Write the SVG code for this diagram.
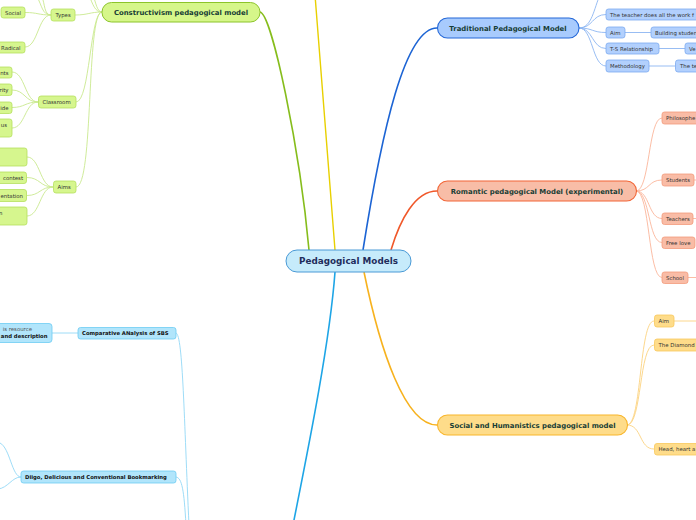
<svg xmlns="http://www.w3.org/2000/svg" width="696" height="520" viewBox="0 0 696 520">
<style>
text{font-family:"DejaVu Sans","Liberation Sans",sans-serif}
.main{font-size:6.9px;font-weight:bold;fill:#173d35;text-anchor:middle}
.t{font-size:5.4px;fill:#333}
.tb{font-size:5.3px;fill:#111;font-weight:bold}
.g1{fill:#d6f68e;stroke:#b5df5e;stroke-width:0.8}
.b1{fill:#b2d0fd;stroke:#7ba9f0;stroke-width:0.8}
.r1{fill:#f9bca6;stroke:#f39a7b;stroke-width:0.8}
.y1{fill:#fedc8a;stroke:#f9c85a;stroke-width:0.8}
.l1{fill:#b1e5fb;stroke:#6ccbf2;stroke-width:0.8}
</style>
<g id="connectors" fill="none">
  <path d="M260,12 C272,14 300,150 309,250" stroke="#86bd1c" stroke-width="1.6"/>
  <path d="M335,250 C328,160 320,60 315,-5" stroke="#e8d000" stroke-width="1.4"/>
  <path d="M363,250 C382,130 405,28 437,28" stroke="#1c64d4" stroke-width="1.6"/>
  <path d="M391,250 C400,220 415,191 437,191" stroke="#f0582a" stroke-width="1.6"/>
  <path d="M364,272 C380,350 405,425 437,425" stroke="#f7b21e" stroke-width="1.6"/>
  <path d="M335,272 C330,340 310,440 293,525" stroke="#1ea5e6" stroke-width="1.6"/>
  <g stroke="#c9e98f" stroke-width="0.9">
    <path d="M102,12 C90,12 88,15 75,15"/>
    <path d="M102,12 C90,12 90,102 76,102"/>
    <path d="M102,12 C86,12 94,187 76,187"/>
    <path d="M102,12 C95,12 93,5 89,-5"/>
    <path d="M102,12 C97,12 96,3 93,-5"/>
    <path d="M51,15 C38,15 38,12.5 25,12.5"/>
    <path d="M51,15 C38,15 38,47 25,47"/>
    <path d="M51,15 C42,15 42,5 37,-3"/>
    <path d="M51,15 C44,15 45,4 42,-3"/>
    <path d="M38,102 C25,102 25,72 12,72"/>
    <path d="M38,102 C25,102 25,90 12,90"/>
    <path d="M38,102 C25,102 25,107.5 12,107.5"/>
    <path d="M38,102 C25,102 25,128 12,128"/>
    <path d="M53,187 C40,187 40,157 27,157"/>
    <path d="M53,187 C40,187 40,177.5 27,177.5"/>
    <path d="M53,187 C40,187 40,195.5 27,195.5"/>
    <path d="M53,187 C40,187 40,216 27,216"/>
  </g>
  <g stroke="#8cb6f2" stroke-width="0.9">
    <path d="M579,28 C592,28 594,8 600,-5"/>
    <path d="M579,28 C593,28 592,14.5 606,14.5"/>
    <path d="M579,28 C593,28 592,32.5 606,32.5"/>
    <path d="M579,28 C593,28 592,48.5 606,48.5"/>
    <path d="M579,28 C593,28 592,66 606,66"/>
    <path d="M625,32.5 H651"/>
    <path d="M659,48.5 H685"/>
    <path d="M649,66 H675"/>
  </g>
  <g stroke="#fbb59b" stroke-width="0.9">
    <path d="M636,191 C650,191 648,118 662,118"/>
    <path d="M636,191 C650,191 648,180 662,180"/>
    <path d="M636,191 C650,191 648,218.5 662,218.5"/>
    <path d="M636,191 C650,191 648,242.5 662,242.5"/>
    <path d="M636,191 C650,191 648,277.5 662,277.5"/>
    <path d="M694,180 H696"/>
    <path d="M693,218.5 H696"/>
    <path d="M688,277.5 H696"/>
  </g>
  <g stroke="#fcd27f" stroke-width="0.9">
    <path d="M627,425 C642,425 639,321 654,321"/>
    <path d="M627,425 C642,425 639,345 654,345"/>
    <path d="M627,425 C642,425 639,449 654,449"/>
    <path d="M674,321 H696"/>
  </g>
  <g stroke="#93d8f6" stroke-width="0.9">
    <path d="M176,333 C183,335 184,420 189,525"/>
    <path d="M176,477 C182,478 184,490 186,525"/>
    <path d="M52,333 H78"/>
    <path d="M21,477 C12,477 10,448 0,443"/>
    <path d="M21,477 C12,477 8,488 -2,489"/>
  </g>
</g>
<g id="center">
  <rect x="286" y="250" width="125" height="22" rx="11" fill="#c6ebfb" stroke="#4a9ad6" stroke-width="1"/>
  <text x="348.5" y="264.3" style="font-size:8.8px;font-weight:bold;fill:#1f2d5c;text-anchor:middle">Pedagogical Models</text>
</g>
<g id="constructivism">
  <rect x="102" y="2.5" width="158" height="19.5" rx="9.5" fill="#d6f68a" stroke="#8cc42a" stroke-width="1"/>
  <text class="main" x="181" y="14.7">Constructivism pedagogical model</text>
</g>
<g id="traditional">
  <rect x="437.5" y="18" width="141.5" height="20" rx="10" fill="#a8cbfd" stroke="#2468d8" stroke-width="1.1"/>
  <text class="main" x="508" y="30.5">Traditional Pedagogical Model</text>
</g>
<g id="romantic">
  <rect x="437.5" y="181" width="199" height="20" rx="10" fill="#f8bda7" stroke="#f26536" stroke-width="1.1"/>
  <text class="main" x="537" y="193.5">Romantic pedagogical Model (experimental)</text>
</g>
<g id="social-humanistics">
  <rect x="437.5" y="415" width="190" height="20" rx="10" fill="#fedc8a" stroke="#f8b52a" stroke-width="1.1"/>
  <text class="main" x="532.5" y="427.5">Social and Humanistics pedagogical model</text>
</g>
<g id="types"><rect class="g1" x="51" y="9" width="24" height="12" rx="2.5"/><text class="t" x="55.5" y="17">Types</text></g>
<g id="social"><rect class="g1" x="1" y="7" width="24" height="11" rx="2.5"/><text class="t" x="5" y="14.5">Social</text></g>
<g id="radical"><rect class="g1" x="-4" y="42" width="29" height="11" rx="2.5"/><text class="t" x="1" y="49.5">Radical</text></g>
<g id="classroom"><rect class="g1" x="38.5" y="96" width="37.5" height="12" rx="2.5"/><text class="t" x="42.5" y="104">Classroom</text></g>
<g id="cl-1"><rect class="g1" x="-20" y="67" width="32" height="11" rx="2.5"/><text class="t" x="8.5" y="74.5" text-anchor="end">nts</text></g>
<g id="cl-2"><rect class="g1" x="-20" y="84" width="32" height="11.5" rx="2.5"/><text class="t" x="8.5" y="91.7" text-anchor="end">rity</text></g>
<g id="cl-3"><rect class="g1" x="-20" y="102" width="32" height="11.5" rx="2.5"/><text class="t" x="8.5" y="109.7" text-anchor="end">ide</text></g>
<g id="cl-4"><rect class="g1" x="-20" y="119" width="32" height="18" rx="2.5"/><text class="t" x="7" y="127" text-anchor="end">us</text></g>
<g id="aims"><rect class="g1" x="53.5" y="181" width="22.5" height="12" rx="2.5"/><text class="t" x="57.5" y="189">Aims</text></g>
<g id="aims-1"><rect class="g1" x="-10" y="148" width="37" height="18" rx="2.5"/></g>
<g id="aims-2"><rect class="g1" x="-20" y="172" width="46.5" height="11.5" rx="2.5"/><text class="t" x="23" y="179.8" text-anchor="end">contest</text></g>
<g id="aims-3"><rect class="g1" x="-20" y="189.5" width="46.5" height="12" rx="2.5"/><text class="t" x="23" y="197.5" text-anchor="end">entation</text></g>
<g id="aims-4"><rect class="g1" x="-10" y="207" width="37" height="18" rx="2.5"/><text class="t" x="-1" y="215">n</text></g>
<g id="tr-1"><rect class="b1" x="606" y="9" width="100" height="11" rx="2.5"/><text class="t" x="610" y="16.5">The teacher does all the work f</text></g>
<g id="tr-aim"><rect class="b1" x="606" y="27" width="19" height="11" rx="2.5"/><text class="t" x="610" y="34.5">Aim</text></g>
<g id="tr-aim-1"><rect class="b1" x="651" y="27" width="60" height="11" rx="2.5"/><text class="t" x="655" y="34.5">Building studen</text></g>
<g id="tr-ts"><rect class="b1" x="606" y="43" width="53" height="11" rx="2.5"/><text class="t" x="610" y="50.5">T-S Relationship</text></g>
<g id="tr-ts-1"><rect class="b1" x="685" y="43" width="30" height="11" rx="2.5"/><text class="t" x="689" y="50.5">Ve</text></g>
<g id="tr-meth"><rect class="b1" x="606" y="60" width="43" height="12" rx="2.5"/><text class="t" x="610" y="68">Methodology</text></g>
<g id="tr-meth-1"><rect class="b1" x="675.5" y="60" width="40" height="12" rx="2.5"/><text class="t" x="680" y="68">The te</text></g>
<g id="ro-phil"><rect class="r1" x="662" y="112" width="50" height="12" rx="2.5"/><text class="t" x="666" y="120">Philosophe</text></g>
<g id="ro-students"><rect class="r1" x="662" y="174" width="32" height="12" rx="2.5"/><text class="t" x="666" y="182">Students</text></g>
<g id="ro-teachers"><rect class="r1" x="662" y="213" width="31" height="11.5" rx="2.5"/><text class="t" x="666" y="220.7">Teachers</text></g>
<g id="ro-free"><rect class="r1" x="662" y="237" width="33" height="11.5" rx="2.5"/><text class="t" x="666" y="244.7">Free love</text></g>
<g id="ro-school"><rect class="r1" x="662" y="272" width="26" height="11.5" rx="2.5"/><text class="t" x="666" y="279.7">School</text></g>
<g id="so-aim"><rect class="y1" x="654.5" y="315" width="19.5" height="12" rx="2.5"/><text class="t" x="658.5" y="323">Aim</text></g>
<g id="so-diamond"><rect class="y1" x="654.5" y="339" width="50" height="12" rx="2.5"/><text class="t" x="658.5" y="347">The Diamond</text></g>
<g id="so-head"><rect class="y1" x="654.5" y="443.5" width="60" height="11.5" rx="2.5"/><text class="t" x="658.5" y="451.2">Head, heart a</text></g>
<g id="comparative"><rect class="l1" x="78" y="327.5" width="98" height="11.5" rx="2.5"/><text class="tb" x="82" y="335.2">Comparative ANalysis of SBS</text></g>
<g id="resource"><rect class="l1" x="-20" y="323.5" width="72" height="19" rx="3"/><text class="t" x="32" y="331" text-anchor="end" style="fill:#555">is resource</text><text class="tb" x="47.5" y="337.5" text-anchor="end">and description</text></g>
<g id="diigo"><rect class="l1" x="21" y="471" width="155" height="12" rx="2.5"/><text class="tb" x="25" y="479">Diigo, Delicious and Conventional Bookmarking</text></g>
</svg>
